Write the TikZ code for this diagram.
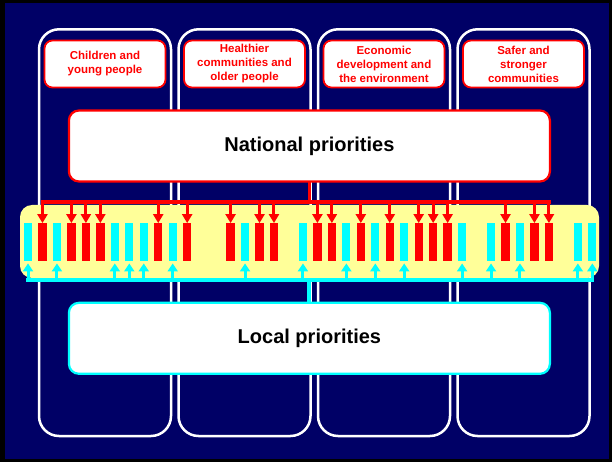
\documentclass[tikz,border=0pt]{standalone}
\usepackage{fontspec}
\setmainfont{Liberation Sans}
\usetikzlibrary{arrows.meta,positioning}

\definecolor{navy}{RGB}{0,0,102}
\definecolor{barcyan}{RGB}{0,255,255}
\definecolor{bandyellow}{RGB}{255,255,153}

\begin{document}
\begin{tikzpicture}[
    x=1pt,y=-1pt,
    >={Triangle[length=9pt,width=10pt]},
    col/.style={draw=white,line width=2.5pt,rounded corners=20pt},
    theme/.style={draw=red,fill=white,line width=1.8pt,rounded corners=8pt,
      minimum width=121pt,minimum height=47pt,inner sep=0,align=center,
      text=red,font=\fontsize{11.5}{14}\selectfont\bfseries},
    prio/.style={fill=white,line width=2.2pt,rounded corners=10pt,
      minimum width=481pt,minimum height=71pt,
      font=\fontsize{20}{24}\selectfont\bfseries},
    slot/.style={minimum width=8.3pt,minimum height=37.4pt,inner sep=0},
    redbar/.style={slot,fill=red},
    cyanbar/.style={slot,fill=barcyan},
    redline/.style={red,line width=3.6pt,line cap=rect},
    cyanline/.style={barcyan,line width=4pt,line cap=rect},
    natarrow/.style={->,red,line width=3pt},
    locarrow/.style={->,barcyan,line width=3pt,shorten >=2.5pt,
      >={Triangle[length=8pt,width=10pt]}}
    ]
    \useasboundingbox (0,0) rectangle (612,462);

    % background
    \fill[black] (0,0) rectangle (612,462);
    \fill[navy] (5,3) rectangle (609,459);

    % the four themes
    \foreach \c in {105,244.5,384,523.5} {
      \draw[col] ({\c-66},29.3) rectangle ({\c+66},436);
    }
    \node[theme] (t1) at (105,64) {Children and\\young people};
    \node[theme] (t2) at (244.5,64) {Healthier\\communities and\\older people};
    \node[theme] (t3) at (384,64) {Economic\\development and\\the environment};
    \node[theme] (t4) at (523.5,64) {Safer and\\stronger\\communities};

    % band of targets
    \fill[bandyellow,rounded corners=12pt] (20,205) rectangle (599,278);

    \node[prio,draw=red] (nat) at (309.4,146) {National priorities};
    \node[prio,draw=barcyan] (loc) at (309.4,338.3) {Local priorities};

    \foreach \i in {1,3,4,5,9,11,14,16,17,20,21,23,25,27,28,29,33,35,36} {
      \node[redbar] (r\i) at ({28+14.47*\i},242) {};
    }
    \foreach \i in {0,2,6,7,8,10,15,19,22,24,26,30,32,34,38,39} {
      \node[cyanbar] (c\i) at ({28+14.47*\i},242) {};
    }

    \coordinate (rl) at (0,202.3);
    \coordinate (cl) at (0,280);

    % national links
    \draw[redline] (nat.south) -- (nat.south |- rl);
    \draw[redline] (r1.north |- rl) -- (r36.north |- rl);
    \foreach \i in {1,3,4,5,9,11,14,16,17,20,21,23,25,27,28,29,33,35,36} {
      \draw[natarrow] (r\i.north |- rl) -- (r\i.north);
    }

    % local links
    \draw[cyanline] (loc.north) -- (loc.north |- cl);
    \draw[cyanline] (c0.south |- cl) -- (c39.south |- cl);
    \foreach \i in {0,2,6,7,8,10,15,19,22,24,26,30,32,34,38,39} {
      \draw[locarrow] (c\i.south |- cl) -- (c\i.south);
    }
\end{tikzpicture}
\end{document}
